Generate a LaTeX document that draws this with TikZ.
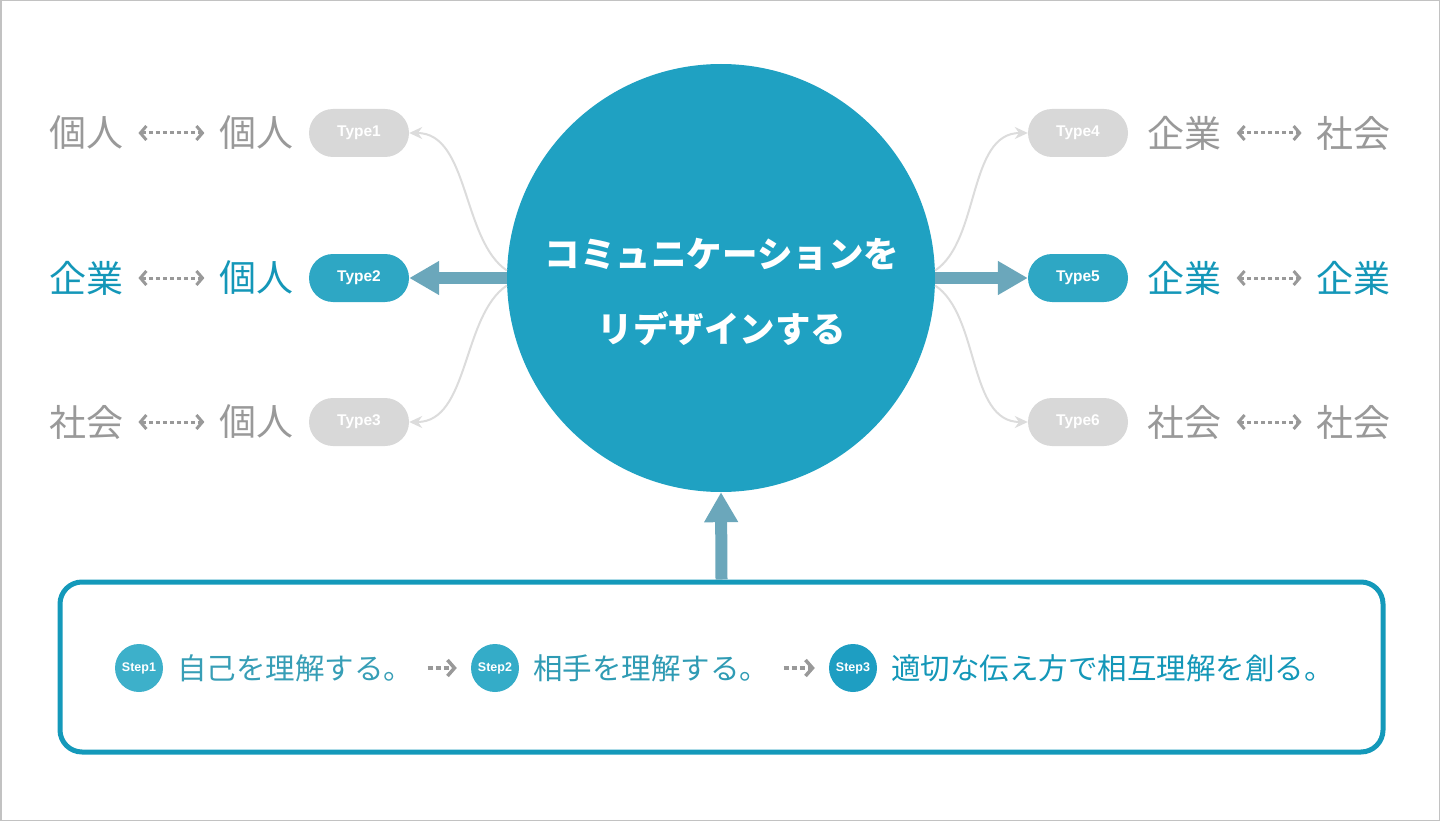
\documentclass[tikz,border=0pt]{standalone}
\usepackage{fontspec}
\setmainfont{Liberation Sans}
\newfontfamily\cjk{Noto Sans CJK JP}
\usetikzlibrary{arrows.meta,positioning}
\definecolor{mainblue}{RGB}{31,161,194}
\definecolor{fatblue}{RGB}{107,167,187}
\definecolor{pillgrey}{RGB}{216,216,216}
\definecolor{pillblue}{RGB}{46,167,196}
\definecolor{wordgrey}{RGB}{153,153,153}
\definecolor{wordblue}{RGB}{20,151,184}
\definecolor{linegrey}{RGB}{220,220,220}
\definecolor{panelblue}{RGB}{20,153,186}
\definecolor{stepA}{RGB}{61,176,202}
\definecolor{stepB}{RGB}{52,172,200}
\definecolor{stepC}{RGB}{30,158,194}

\begin{document}
\begin{tikzpicture}[x=1pt,y=-1pt,
  pill/.style={rounded corners=24pt,minimum width=100pt,minimum height=48pt,inner sep=0pt,text=white,font=\fontsize{15.5}{15.5}\selectfont\bfseries},
  greypill/.style={pill,fill=pillgrey},
  bluepill/.style={pill,fill=pillblue},
  word/.style={inner sep=0pt,font=\cjk\fontsize{37}{37}\selectfont},
  greyword/.style={word,text=wordgrey},
  blueword/.style={word,text=wordblue},
  pair/.style={draw=wordgrey,line width=3pt,dash pattern=on 4pt off 3pt,shorten <=15pt,shorten >=15pt,
    {Straight Barb[length=6pt,width=14pt]}-{Straight Barb[length=6pt,width=14pt]}},
  thincurve/.style={draw=linegrey,line width=2pt,-{Stealth[length=13pt,width=12pt]}},
  fat/.style={draw=fatblue,line width=12pt,-{Triangle[length=30pt,width=32pt]}},
  stepdot/.style={circle,minimum size=48pt,inner sep=0pt,text=white,font=\fontsize{12.5}{12.5}\selectfont\bfseries},
  steptext/.style={inner sep=0pt,font=\cjk\fontsize{29.5}{29.5}\selectfont},
  stepgo/.style={draw=wordgrey,line width=3.5pt,dash pattern=on 5pt off 3pt,shorten <=14pt,shorten >=14pt,
    -{Straight Barb[length=7pt,width=16pt]}}]
\useasboundingbox (0,0) rectangle (1440,821);
\draw[pillgrey!90!black,line width=1.5pt] (0.75,0.75) rectangle (1439.25,820.25);

% centre circle
\node[circle,fill=mainblue,minimum size=428pt,inner sep=0pt] (big) at (721,278) {};
\node[align=center,text=white,font=\cjk\bfseries\fontsize{35.5}{75}\selectfont] (title) at (722,292) {コミュニケーションを\\リデザインする};

% left side
\node[greypill] (t1) at (359,133) {Type1};
\node[bluepill] (t2) at (359,278) {Type2};
\node[greypill] (t3) at (359,422) {Type3};
\node[greyword,left=15pt of t1] (l1b) {個人};
\node[greyword,left=96pt of l1b] (l1a) {個人};
\node[blueword,left=15pt of t2] (l2b) {個人};
\node[blueword,left=96pt of l2b] (l2a) {企業};
\node[greyword,left=15pt of t3] (l3b) {個人};
\node[greyword,left=96pt of l3b] (l3a) {社会};
\draw[pair] (l1a) -- (l1b);
\draw[pair] (l2a) -- (l2b);
\draw[pair] (l3a) -- (l3b);

% right side
\node[greypill] (t4) at (1078,133) {Type4};
\node[bluepill] (t5) at (1078,278) {Type5};
\node[greypill] (t6) at (1078,422) {Type6};
\node[greyword,right=19pt of t4] (r1a) {企業};
\node[greyword,right=95pt of r1a] (r1b) {社会};
\node[blueword,right=19pt of t5] (r2a) {企業};
\node[blueword,right=95pt of r2a] (r2b) {企業};
\node[greyword,right=19pt of t6] (r3a) {社会};
\node[greyword,right=95pt of r3a] (r3b) {社会};
\draw[pair] (r1a) -- (r1b);
\draw[pair] (r2a) -- (r2b);
\draw[pair] (r3a) -- (r3b);

% links from the circle
\draw[thincurve] (big.178) .. controls +(-45,-30) and +(60,0) .. (t1.east);
\draw[thincurve] (big.182) .. controls +(-45,30) and +(60,0) .. (t3.east);
\draw[thincurve] (big.2) .. controls +(45,-30) and +(-60,0) .. (t4.west);
\draw[thincurve] (big.-2) .. controls +(45,30) and +(-60,0) .. (t6.west);
\draw[fat] (big.west) -- (t2.east);
\draw[fat] (big.east) -- (t5.west);

% steps panel
\node[draw=panelblue,line width=5pt,rounded corners=22pt,minimum width=1323pt,minimum height=170pt] (panel) at (721.5,667) {};
\draw[fat] (panel.north) -- (big.south);
\node[stepdot,fill=stepA] (s1) at (139,668) {Step1};
\node[stepdot,fill=stepB] (s2) at (495,668) {Step2};
\node[stepdot,fill=stepC] (s3) at (853,668) {Step3};
\node[steptext,text=stepA!90!black,right=14pt of s1] (x1) {自己を理解する。};
\node[steptext,text=stepB!90!black,right=14pt of s2] (x2) {相手を理解する。};
\node[steptext,text=wordblue,right=14pt of s3] (x3) {適切な伝え方で相互理解を創る。};
\draw[stepgo] (x1) -- (s2);
\draw[stepgo] (x2) -- (s3);
\end{tikzpicture}
\end{document}
